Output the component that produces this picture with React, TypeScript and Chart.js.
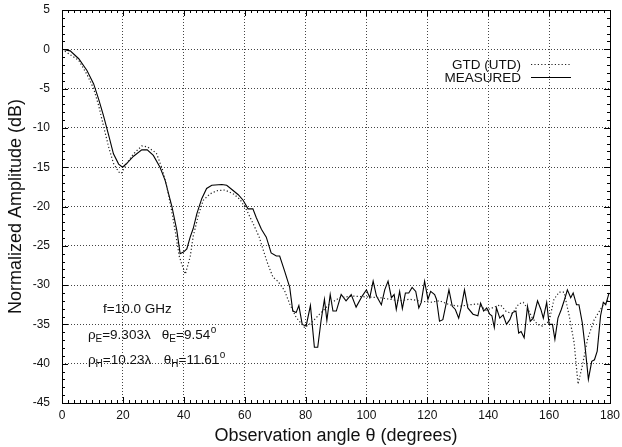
import { useEffect, useRef } from "react";
import { Chart, registerables } from "chart.js";

Chart.register(...registerables);

const FONT = "'Liberation Sans', Arial, Helvetica, sans-serif";

const xMin = 0;
const xMax = 180;
const xStep = 20;
const xMinorStep = 2;
const yMin = -45;
const yMax = 5;
const yStep = 5;
const yMinorStep = 1;

const measuredAngles = [
  0, 2.7, 5.5, 8.2, 10.4, 12, 13.6, 15.3, 16.9, 18.6, 19.9, 21.3, 23.5, 26.2, 28, 30, 32.2, 33.9, 36.1, 37.7,
  38.8, 39.9, 41, 42.1, 43.1, 44.3, 45.9, 47.5, 49.2, 52.5, 54.1, 55.7, 57.9, 59.5, 61.1, 62.7, 63.8, 65.5, 67.1, 68.7,
  70.4, 71.5, 73.1, 74.8, 75.8, 76.9, 77.8, 78.9, 80.2, 81.6, 82.9, 84, 85.1, 86.2, 87, 88.1, 89, 90.1, 91.7, 93.3,
  95, 96.6, 98.6, 100, 101.1, 102.2, 103.3, 104.9, 106, 107.1, 108.2, 109.1, 109.8, 110.9, 111.8, 112.8, 113.9, 115, 116.2, 117.2,
  118, 119.1, 120.2, 121.1, 122.4, 123, 124, 125.1, 126, 127.1, 128.2, 129.2, 130.3, 131.2, 132.2, 133.3, 135, 136.6, 137.5, 138.5,
  139.5, 140.5, 141.2, 142, 142.7, 143.8, 144.9, 146, 147.1, 148, 149.1, 150, 150.8, 151.8, 152.9, 153.8, 154.8, 156.2, 157.3, 158.1,
  159.2, 160, 161.1, 161.9, 162.9, 164, 165.1, 166, 167.1, 167.9, 169, 169.8, 170.9, 171.8, 172.9, 174, 174.9, 175.8, 176.9, 177.8,
  178.6, 179.7,
];
const measuredDb = [
  0, -0.2, -1.2, -2.7, -4.4, -6.3, -8.4, -10.9, -13.3, -14.6, -15.0, -14.5, -13.6, -12.8, -12.8, -13.5, -15, -16.7, -20, -23,
  -26, -25.8, -25.4, -23.9, -22.8, -20.9, -19, -17.7, -17.3, -17.2, -17.3, -17.8, -18.5, -19.2, -20.3, -20.3, -21.4, -22.9, -23.9, -25.9,
  -26.3, -26.3, -28.2, -30.3, -33.3, -33.5, -32.6, -35, -35.2, -32.6, -37.9, -37.9, -34.5, -31.8, -34.5, -31.2, -33.3, -33.3, -31.2, -32,
  -31.2, -32.8, -31.4, -30.6, -31.6, -29.5, -31.4, -32.5, -30.6, -29.5, -31.6, -31.2, -33.1, -30.8, -33, -31, -31, -30.3, -30.8, -32.9,
  -32.2, -29.5, -31.8, -30.8, -31.2, -31.8, -34.6, -34.4, -32.7, -30.6, -32.7, -33.1, -34.2, -32.7, -30.6, -32.9, -33.7, -33.9, -32.3, -33.3,
  -32.9, -33.7, -33.9, -35.4, -32.9, -34.2, -33.8, -35, -34.4, -33.5, -33.3, -36.1, -35.9, -36.7, -32.7, -34.6, -34.2, -32, -33.1, -34.2,
  -32.2, -35, -35, -36.9, -34.2, -33.1, -31.8, -30.6, -31.6, -31, -32.5, -32.5, -34.8, -37.8, -42, -39.7, -39.5, -38.4, -33.9, -32.2,
  -32.5, -31,
];

const gtdAngles = [
  0, 5.5, 8.2, 10.4, 12, 13.6, 15.3, 16.9, 18.6, 19.5, 21.3, 23.5, 26.2, 28, 31, 33, 34.5, 36, 37.3, 38.5,
  39.3, 40.5, 42.1, 43.1, 44.8, 46.4, 48.6, 50.8, 53.5, 56.3, 58.5, 60.7, 62.8, 64.8, 66, 67.5, 69.3, 70.9, 73.1, 74.8,
  76.9, 79.7, 81.9, 84.6, 87.9, 91.2, 95.5, 100, 104.4, 107.7, 110.9, 114.2, 117.5, 120.8, 124, 127.3, 130.6, 133.9, 136.5, 139.3,
  142, 144, 146, 148, 150, 151.5, 153, 154.5, 156.2, 157.8, 160, 161.6, 163.3, 164.9, 166.6, 168.2, 169.5, 170.9, 172.6, 174.8,
  177.5, 179.7,
];
const gtdDb = [
  0, -1.4, -3.2, -5, -7.1, -9.7, -12.4, -14.5, -15.6, -15.8, -14.5, -13.3, -12.3, -12.4, -13.2, -15.3, -17.6, -20.5, -23.4, -26.3,
  -27.3, -28.6, -26.4, -23.8, -21.1, -19.2, -18.4, -18, -17.9, -18.4, -19.1, -20.5, -22.2, -23.9, -25.4, -27.2, -29, -29.5, -30.7, -32.4,
  -34.1, -35.4, -34.8, -33.7, -32.4, -31.6, -31.4, -31.5, -31.6, -31.8, -32, -31.8, -32, -32.2, -32, -32.5, -32.7, -32.5, -32.4, -33.2,
  -32.8, -32.5, -33.4, -33.6, -32.4, -32.2, -33, -34.2, -35, -35.2, -34.6, -31.8, -30.9, -30.9, -33.9, -37.3, -42.6, -40.3, -36.9, -34.4,
  -32.7, -31.8,
];

const seriesNames = ["GTD (UTD)", "MEASURED"];
const xTitle = "Observation angle θ (degrees)";
const yTitle = "Normalized Amplitude (dB)";

// annotation text anchors, in data units
const freqText = "f=10.0 GHz";
const freqAt = { x: 13.5, y: -33.5 };
const rhoEAt = { x: 8.5, y: -36.8 };
const rhoHAt = { x: 8.5, y: -40.1 };
const thetaColX = 32.8;
const rhoE = "9.303";
const thetaE = "9.54";
const rhoH = "10.23";
const thetaH = "11.61";

const frameTicks = {
  id: "frameTicks",
  afterDatasetsDraw(chart: any) {
    const { ctx, chartArea, scales } = chart;
    const { left, right, top, bottom } = chartArea;
    const xs = scales.x;
    const ys = scales.y;
    ctx.save();
    ctx.setLineDash([]);
    ctx.strokeStyle = "#000";
    ctx.lineWidth = 1;
    ctx.strokeRect(Math.round(left) + 0.5, Math.round(top) + 0.5, Math.round(right - left), Math.round(bottom - top));
    ctx.beginPath();
    for (let v = xMin; v <= xMax + 1e-9; v += xMinorStep) {
      const px = Math.round(xs.getPixelForValue(v)) + 0.5;
      const len = Math.abs(v % xStep) < 1e-9 ? 6 : 3;
      ctx.moveTo(px, bottom);
      ctx.lineTo(px, bottom - len);
      ctx.moveTo(px, top);
      ctx.lineTo(px, top + len);
    }
    for (let v = yMin; v <= yMax + 1e-9; v += yMinorStep) {
      const py = Math.round(ys.getPixelForValue(v)) + 0.5;
      const len = Math.abs(v % yStep) < 1e-9 ? 6 : 3;
      ctx.moveTo(left, py);
      ctx.lineTo(left + len, py);
      ctx.moveTo(right, py);
      ctx.lineTo(right - len, py);
    }
    ctx.stroke();
    ctx.restore();
  },
  afterDraw(chart: any) {
    const { ctx, chartArea, scales } = chart;
    const xs = scales.x;
    const ys = scales.y;
    ctx.save();
    ctx.fillStyle = "#111";
    ctx.textBaseline = "alphabetic";
    const main = `13.5px ${FONT}`;
    const sub = `10px ${FONT}`;

    // legend
    const legendRight = chartArea.right - 89;
    const lineX0 = chartArea.right - 79;
    const lineX1 = chartArea.right - 39;
    const ds = chart.data.datasets;
    const rows = [chartArea.top + 54, chartArea.top + 67];
    ctx.font = main;
    ctx.textAlign = "right";
    ds.forEach((d: any, i: number) => {
      const yy = rows[i];
      ctx.fillText(d.label, legendRight, yy + 5);
      ctx.save();
      ctx.strokeStyle = d.borderColor;
      ctx.lineWidth = d.borderWidth;
      ctx.setLineDash(d.borderDash || []);
      ctx.beginPath();
      ctx.moveTo(lineX0, yy + 0.5);
      ctx.lineTo(lineX1, yy + 0.5);
      ctx.stroke();
      ctx.restore();
    });

    // annotations
    ctx.textAlign = "left";
    const drawRuns = (x: number, y: number, runs: [string, string][]) => {
      let cx = x;
      runs.forEach(([t, kind]) => {
        if (kind === "n") {
          ctx.font = main;
          ctx.fillText(t, cx, y);
        } else if (kind === "sub") {
          ctx.font = sub;
          ctx.fillText(t, cx, y + 3);
        } else {
          ctx.font = sub;
          ctx.fillText(t, cx + 0.5, y - 6);
        }
        cx += ctx.measureText(t).width + (kind === "sup" ? 0.5 : 0);
      });
    };
    ctx.font = main;
    ctx.fillText(freqText, xs.getPixelForValue(freqAt.x), ys.getPixelForValue(freqAt.y));
    const tx = xs.getPixelForValue(thetaColX);
    const eY = ys.getPixelForValue(rhoEAt.y);
    const hY = ys.getPixelForValue(rhoHAt.y);
    drawRuns(xs.getPixelForValue(rhoEAt.x), eY, [["ρ", "n"], ["E", "sub"], ["=" + rhoE + "λ", "n"]]);
    drawRuns(tx, eY, [["θ", "n"], ["E", "sub"], ["=" + thetaE, "n"], ["o", "sup"]]);
    drawRuns(xs.getPixelForValue(rhoHAt.x), hY, [["ρ", "n"], ["H", "sub"], ["=" + rhoH + "λ", "n"]]);
    drawRuns(tx + 2, hY, [["θ", "n"], ["H", "sub"], ["=" + thetaH, "n"], ["o", "sup"]]);
    ctx.restore();
  },
};

export default function App() {
  const ref = useRef<HTMLCanvasElement>(null);
  useEffect(() => {
    const canvas = ref.current;
    if (!canvas) return;
    const gtdData = gtdAngles.map((a, i) => ({ x: a, y: gtdDb[i] }));
    const measData = measuredAngles.map((a, i) => ({ x: a, y: measuredDb[i] }));
    const zeroPad = (s: any) => {
      s.paddingTop = 0;
      s.paddingBottom = 0;
      s.paddingLeft = 0;
      s.paddingRight = 0;
    };
    const chart = new Chart(canvas, {
      type: "line",
      data: {
        datasets: [
          {
            label: seriesNames[0],
            data: gtdData,
            borderColor: "#222",
            borderWidth: 1.2,
            borderDash: [1.2, 2.2],
            pointRadius: 0,
            tension: 0,
            fill: false,
          },
          {
            label: seriesNames[1],
            data: measData,
            borderColor: "#000",
            borderWidth: 1.1,
            pointRadius: 0,
            tension: 0,
            fill: false,
          },
        ],
      },
      options: {
        responsive: false,
        animation: false,
        devicePixelRatio: 1,
        layout: { padding: { top: 10, right: 12, left: 0, bottom: 0 } },
        plugins: { legend: { display: false }, tooltip: { enabled: false } },
        scales: {
          x: {
            type: "linear",
            min: xMin,
            max: xMax,
            ticks: { stepSize: xStep, color: "#111", font: { family: FONT, size: 12 }, padding: 5, maxRotation: 0 },
            grid: { color: "#444", lineWidth: 1, drawTicks: false },
            border: { display: false, dash: [1, 2] },
            title: { display: true, text: xTitle, color: "#111", font: { family: FONT, size: 18 }, padding: { top: 0, bottom: 0 } },
            afterFit: (s: any) => { s.height = 44; zeroPad(s); },
          },
          y: {
            type: "linear",
            min: yMin,
            max: yMax,
            ticks: { stepSize: yStep, color: "#111", font: { family: FONT, size: 12 }, padding: 12 },
            grid: { color: "#444", lineWidth: 1, drawTicks: false },
            border: { display: false, dash: [1, 2] },
            title: { display: true, text: yTitle, color: "#111", font: { family: FONT, size: 18 }, padding: { top: 5, bottom: 0 } },
            afterFit: (s: any) => { s.width = 62; zeroPad(s); },
          },
        },
      },
      plugins: [frameTicks],
    } as any);
    return () => chart.destroy();
  }, []);
  return (
    <div style={{ position: "fixed", left: 0, top: 0, width: 622, height: 447, background: "#fff" }}>
      <canvas ref={ref} width={622} height={447} style={{ display: "block", width: 622, height: 447 }} />
    </div>
  );
}
